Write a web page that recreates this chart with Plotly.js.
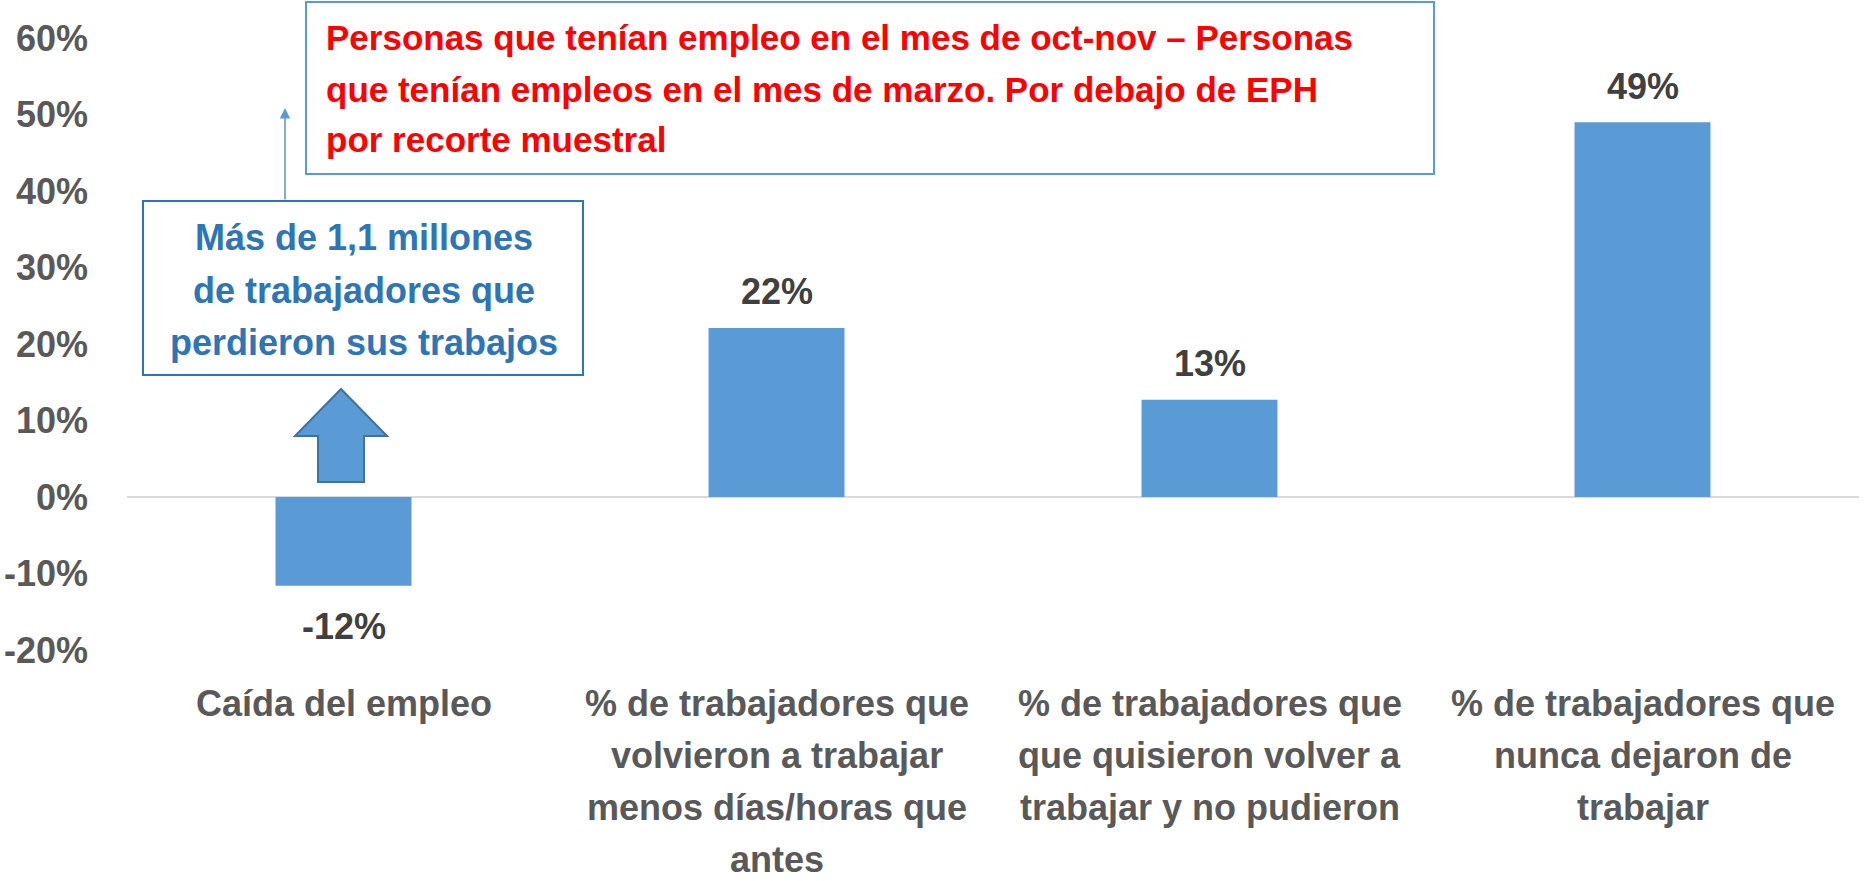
<!DOCTYPE html>
<html>
<head>
<meta charset="utf-8">
<script src="https://cdn.plot.ly/plotly-3.0.1.min.js"></script>
<style>html,body{margin:0;padding:0;background:#fff;}#chart{width:1864px;height:881px;}</style>
</head>
<body>
<div id="chart"></div>
<script>
// ---- data ----
const categories = [
  "Caída del empleo",
  "% de trabajadores que<br>volvieron a trabajar<br>menos días/horas que<br>antes",
  "% de trabajadores que<br>que quisieron volver a<br>trabajar y no pudieron",
  "% de trabajadores que<br>nunca dejaron de<br>trabajar"
];
const values = [-0.116, 0.221, 0.127, 0.49];
const yTickVals = [-0.2, -0.1, 0, 0.1, 0.2, 0.3, 0.4, 0.5, 0.6];
const yTickText = ["-20%", "-10%", "0%", "10%", "20%", "30%", "40%", "50%", "60%"];
const noteRed = [
  "Personas que tenían empleo en el mes de oct-nov – Personas",
  "que tenían empleos en el mes de marzo. Por debajo de EPH",
  "por recorte muestral"
];
const noteBlue = [
  "Más de 1,1 millones",
  "de trabajadores que",
  "perdieron sus trabajos"
];

// ---- layout helpers (pixel -> paper) ----
const W = 1864, H = 881;
const L = 127, R = 5, T = 38, B = 231;
const pw = W - L - R, ph = H - T - B;
const fx = p => (p - L) / pw;
const fy = p => (H - B - p) / ph;

const FONT = "Liberation Sans, Arial, sans-serif";
const blue = "#5B9BD5";
const gray = "#595959";

const annotations = [];
// data labels
values.forEach((v, i) => {
  annotations.push({
    x: categories[i], y: v, xref: "x", yref: "y",
    text: Math.round(v * 100) + "%",
    showarrow: false, yanchor: "middle",
    yshift: v >= 0 ? 36 : -41,
    font: {family: FONT, size: 36, color: "#404040", weight: "bold"}
  });
});
// category labels, one annotation per line (for Excel-like line spacing)
categories.forEach(c => {
  c.split("<br>").forEach((line, j) => {
    annotations.push({
      x: c, xref: "x", yref: "paper", y: fy(703 + 52 * j),
      text: line, showarrow: false, xanchor: "center", yanchor: "middle",
      borderpad: 0,
      font: {family: FONT, size: 36, color: gray, weight: "bold"}
    });
  });
});
const redY = [37, 89, 140];
noteRed.forEach((t, i) => {
  annotations.push({
    xref: "paper", yref: "paper", x: fx(324), y: fy(redY[i]),
    xanchor: "left", yanchor: "middle", showarrow: false, text: t,
    font: {family: FONT, size: 35, color: "#FF0000", weight: "bold"}
  });
});
const blueY = [238, 290, 342];
noteBlue.forEach((t, i) => {
  annotations.push({
    xref: "paper", yref: "paper", x: fx(364), y: fy(blueY[i]),
    xanchor: "center", yanchor: "middle", showarrow: false, text: t,
    font: {family: FONT, size: 36, color: "#2E75B6", weight: "bold"}
  });
});
// thin arrow from blue box to red box
annotations.push({
  xref: "paper", yref: "paper", x: fx(285), y: fy(108),
  ax: 0, ay: 93, text: "", showarrow: true,
  arrowhead: 2, arrowsize: 1.3, arrowwidth: 1.6, arrowcolor: blue, standoff: 0
});

const pt = (x, y) => fx(x) + "," + fy(y);
const shapes = [
  {type: "rect", xref: "paper", yref: "paper",
   x0: fx(306), x1: fx(1434), y0: fy(174), y1: fy(2),
   line: {color: blue, width: 2}, fillcolor: "#ffffff", layer: "below"},
  {type: "rect", xref: "paper", yref: "paper",
   x0: fx(143), x1: fx(583), y0: fy(375), y1: fy(201),
   line: {color: "#2E75B6", width: 2}, fillcolor: "#ffffff", layer: "below"},
  {type: "path", xref: "paper", yref: "paper",
   path: "M" + pt(341, 389) + " L" + pt(387, 436) + " L" + pt(364, 436) + " L" + pt(364, 482) +
         " L" + pt(318, 482) + " L" + pt(318, 436) + " L" + pt(295, 436) + " Z",
   fillcolor: blue, line: {color: "#41719C", width: 2}}
];

const trace = {
  type: "bar", x: categories, y: values,
  marker: {color: blue}, hoverinfo: "none"
};

const layout = {
  width: W, height: H,
  margin: {l: L, r: R, t: T, b: B},
  paper_bgcolor: "#ffffff", plot_bgcolor: "#ffffff",
  showlegend: false, bargap: 0.686,
  xaxis: {
    type: "category", showgrid: false, showline: false, zeroline: false,
    ticks: "", showticklabels: false
  },
  yaxis: {
    range: [-0.2, 0.6], tickmode: "array", tickvals: yTickVals, ticktext: yTickText,
    showgrid: false, showline: false,
    zeroline: true, zerolinecolor: "#D9D9D9", zerolinewidth: 2,
    ticks: "", ticklabelstandoff: 38,
    tickfont: {family: FONT, size: 36, color: gray, weight: "bold"}
  },
  shapes: shapes,
  annotations: annotations
};

Plotly.newPlot("chart", [trace], layout, {displayModeBar: false, staticPlot: true});
</script>
</body>
</html>
